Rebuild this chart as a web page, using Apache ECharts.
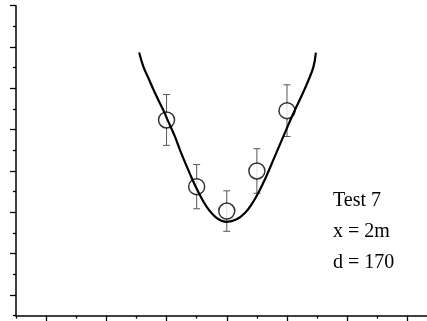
<!DOCTYPE html>
<html>
<head>
<meta charset="utf-8">
<script src="https://cdn.jsdelivr.net/npm/echarts@6/dist/echarts.min.js"></script>
<style>
  html, body { margin: 0; padding: 0; background: #fff; }
  #chart { width: 427px; height: 321px; }
</style>
</head>
<body>
<div id="chart"></div>
<script>
// Measured points with symmetric error bars
const pointX = [5, 6, 7, 8, 9];
const pointY = [9.47, 6.24, 5.06, 7.0, 9.92];
const pointErr = [1.23, 1.07, 0.98, 1.08, 1.25];

// Fitted curve, sampled along its length
const curveX = [4.09, 4.23, 4.40, 4.62, 4.89, 5.06, 5.28, 5.45, 5.78, 6.03, 6.34, 6.67, 7.00,
                7.33, 7.61, 7.83, 8.05, 8.30, 8.55, 8.77, 8.99, 9.21, 9.49, 9.71, 9.88, 9.96];
const curveY = [12.73, 12.05, 11.49, 10.76, 9.95, 9.39, 8.66, 8.00, 6.85, 6.05, 5.25, 4.72, 4.54,
                4.66, 4.98, 5.40, 5.95, 6.70, 7.55, 8.30, 9.05, 9.78, 10.65, 11.38, 12.05, 12.73];

// Tick positions (no tick labels are drawn)
const xMajorTicks = [1, 3, 5, 7, 9, 11, 13];
const xMinorTicks = [0, 2, 4, 6, 8, 10, 12];
const yMajorTicks = [1, 3, 5, 7, 9, 11, 13, 15];
const yMinorTicks = [0, 2, 4, 6, 8, 10, 12, 14];

// Annotation lines
const noteLines = ['Test 7', 'x = 2m', 'd = 170'];

const X_MIN = 0, X_MAX = 13.65, Y_MIN = 0, Y_MAX = 15;

const chart = echarts.init(document.getElementById('chart'), null, { renderer: 'canvas' });

function axisPair(pos, majors, minors, min, max) {
  const base = {
    type: 'value', min: min, max: max, interval: 1, position: pos,
    axisLabel: { show: false }, splitLine: { show: false }
  };
  return [
    Object.assign({}, base, {
      axisLine: { show: true, onZero: false, lineStyle: { color: '#000', width: 1.5 } },
      axisTick: { show: true, customValues: majors, length: 6, lineStyle: { color: '#000', width: 1.3 } }
    }),
    Object.assign({}, base, {
      axisLine: { show: false, onZero: false },
      axisTick: { show: true, customValues: minors, length: 3, lineStyle: { color: '#000', width: 1.3 } }
    })
  ];
}

const errData = pointX.map((x, i) => [x, pointY[i] - pointErr[i], pointY[i] + pointErr[i]]);

const option = {
  animation: false,
  backgroundColor: '#fff',
  grid: { left: 16, right: 0, top: 5.7, bottom: 5.4, containLabel: false },
  xAxis: axisPair('bottom', xMajorTicks, xMinorTicks, X_MIN, X_MAX),
  yAxis: axisPair('left', yMajorTicks, yMinorTicks, Y_MIN, Y_MAX),
  series: [
    {
      type: 'custom',
      z: 1,
      data: errData,
      renderItem: function (params, api) {
        const x = api.value(0);
        const lo = api.coord([x, api.value(1)]);
        const hi = api.coord([x, api.value(2)]);
        const cap = 3.5;
        const style = { stroke: '#555', lineWidth: 1, fill: null };
        return {
          type: 'group',
          children: [
            { type: 'line', shape: { x1: lo[0], y1: lo[1], x2: hi[0], y2: hi[1] }, style: style },
            { type: 'line', shape: { x1: lo[0] - cap, y1: lo[1], x2: lo[0] + cap, y2: lo[1] }, style: style },
            { type: 'line', shape: { x1: hi[0] - cap, y1: hi[1], x2: hi[0] + cap, y2: hi[1] }, style: style }
          ]
        };
      }
    },
    {
      type: 'scatter',
      z: 2,
      symbol: 'circle',
      symbolSize: 16,
      itemStyle: { color: '#fff', borderColor: '#000', borderWidth: 1.5 },
      data: pointX.map((x, i) => [x, pointY[i]])
    },
    {
      type: 'line',
      z: 3,
      smooth: 0.4,
      showSymbol: false,
      symbol: 'none',
      lineStyle: { color: '#000', width: 2.2 },
      data: curveX.map((x, i) => [x, curveY[i]])
    }
  ],
  graphic: noteLines.map((t, i) => ({
    type: 'text',
    left: 333,
    top: 191 + i * 31,
    style: { text: t, font: '20px "Liberation Serif", "Times New Roman", serif', fill: '#000' }
  }))
};

chart.setOption(option);
</script>
</body>
</html>
